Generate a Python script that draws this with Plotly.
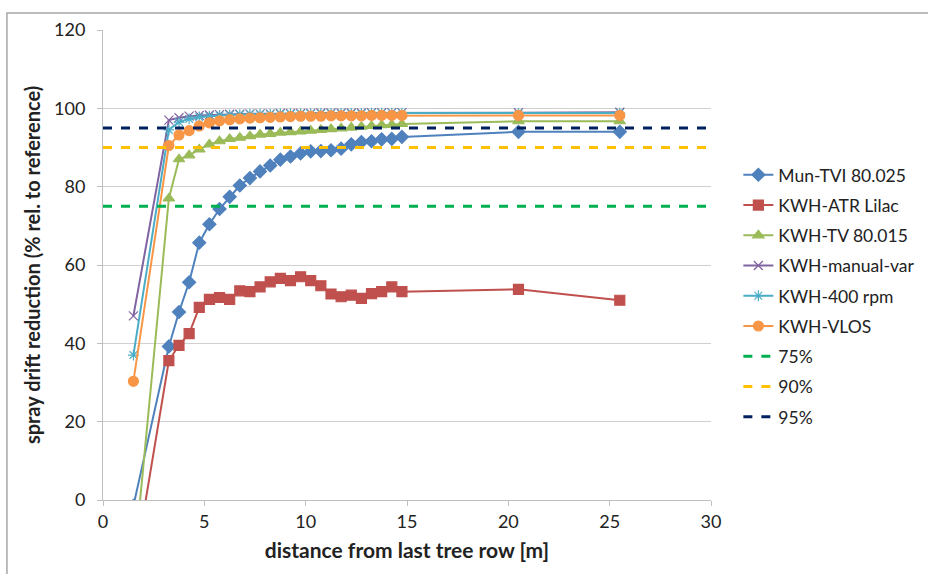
import plotly.graph_objects as go

# x positions (m)
x_dist = [1.5, 3.25, 3.75, 4.25, 4.75, 5.25, 5.75, 6.25, 6.75, 7.25, 7.75, 8.25, 8.75,
          9.25, 9.75, 10.25, 10.75, 11.25, 11.75, 12.25, 12.75, 13.25, 13.75, 14.25,
          14.75, 20.5, 25.5]

mun_tvi = [-1.5, 39.2, 48.0, 55.6, 65.7, 70.4, 74.3, 77.4, 80.3, 82.2, 83.9, 85.4, 86.9,
           87.7, 88.5, 89.0, 89.1, 89.3, 89.7, 90.8, 91.4, 91.6, 92.1, 92.2, 92.7, 94.0, 94.0]
kwh_atr = [-19.0, 35.6, 39.5, 42.5, 49.2, 51.2, 51.7, 51.2, 53.4, 53.2, 54.4, 55.7, 56.6,
           56.0, 57.0, 56.0, 54.7, 52.6, 51.9, 52.3, 51.5, 52.7, 53.2, 54.4, 53.2, 53.8, 51.0]
kwh_tv = [-18.0, 77.0, 87.0, 88.0, 89.5, 90.8, 91.6, 92.2, 92.5, 92.9, 93.3, 93.5, 93.8,
          93.9, 94.1, 94.3, 94.5, 94.7, 94.9, 95.1, 95.3, 95.5, 95.7, 95.8, 96.0, 96.7, 96.7]
kwh_manual = [47.0, 97.0, 97.6, 98.0, 98.2, 98.3, 98.4, 98.5, 98.5, 98.6, 98.6, 98.6, 98.7,
              98.7, 98.7, 98.7, 98.8, 98.8, 98.8, 98.8, 98.8, 98.9, 98.9, 98.9, 98.9, 98.9, 99.0]
kwh_400 = [37.0, 94.5, 96.5, 97.3, 97.8, 98.0, 98.2, 98.3, 98.4, 98.5, 98.5, 98.5, 98.6,
           98.6, 98.6, 98.6, 98.7, 98.7, 98.7, 98.7, 98.7, 98.8, 98.8, 98.8, 98.8, 98.7, 98.8]
kwh_vlos = [30.3, 90.5, 93.2, 94.3, 95.5, 96.3, 96.8, 97.1, 97.3, 97.5, 97.6, 97.7, 97.8,
            97.9, 98.0, 98.0, 98.0, 98.1, 98.1, 98.1, 98.1, 98.2, 98.2, 98.2, 98.2, 98.2, 98.2]

ref_x = [0, 30]
ref_75 = [75, 75]
ref_90 = [90, 90]
ref_95 = [95, 95]

FONT = "Lato"

fig = go.Figure()

series = [
    ("Mun-TVI 80.025", mun_tvi, "#4F81BD", "diamond", 10),
    ("KWH-ATR Lilac", kwh_atr, "#C0504D", "square", 10),
    ("KWH-TV 80.015", kwh_tv, "#9BBB59", "triangle-up", 10),
    ("KWH-manual-var", kwh_manual, "#8064A2", "x-thin-open", 9),
    ("KWH-400 rpm", kwh_400, "#4BACC6", "asterisk-open", 9),
    ("KWH-VLOS", kwh_vlos, "#F79646", "circle", 10),
]
for i, (name, ys, col, sym, sz) in enumerate(series):
    fig.add_trace(go.Scatter(
        x=x_dist, y=ys, name=name, mode="lines+markers",
        line=dict(color=col, width=2),
        marker=dict(symbol=sym, size=sz, color=col, line=dict(color=col, width=1.2)),
        legendgroup=f"g{i}",
    ))

refs = [("75%", ref_75, "#00B050"), ("90%", ref_90, "#FFC000"), ("95%", ref_95, "#002060")]
for j, (name, ys, col) in enumerate(refs):
    fig.add_trace(go.Scatter(
        x=ref_x, y=ys, name=name, mode="lines",
        line=dict(color=col, width=3, dash="dash"),
        legendgroup=f"r{j}",
    ))

fig.update_layout(
    width=928, height=574,
    margin=dict(l=103, r=217, t=30, b=74, autoexpand=False),
    paper_bgcolor="white", plot_bgcolor="white",
    font=dict(family=FONT, size=16, color="#222222"),
    showlegend=True,
    legend=dict(x=1.045, y=0.73, xanchor="left", yanchor="top",
                font=dict(family=FONT, size=17.5, color="#222222"),
                tracegroupgap=4.5, bgcolor="rgba(0,0,0,0)"),
    xaxis=dict(range=[0, 30], tick0=0, dtick=5, showgrid=False, zeroline=False,
               showline=True, linecolor="#BFBFBF", linewidth=1,
               ticks="outside", ticklen=5, tickcolor="#BFBFBF",
               tickfont=dict(family=FONT, size=18), automargin=False,
               title=dict(text="<b>distance from last tree row [m]</b>",
                          font=dict(family=FONT, size=21), standoff=12)),
    yaxis=dict(range=[0, 120], tick0=0, dtick=20, showgrid=True, gridcolor="#D0D0D0",
               gridwidth=1, zeroline=False, showline=True, linecolor="#BFBFBF", linewidth=1,
               ticks="outside", ticklen=5, tickcolor="#BFBFBF", ticklabelstandoff=8,
               tickfont=dict(family=FONT, size=18), automargin=False,
               title=dict(text="<b>spray drift reduction (% rel. to reference)</b>",
                          font=dict(family=FONT, size=20), standoff=8)),
    shapes=[dict(type="rect", xref="paper", yref="paper",
                 x0=-0.158, x1=1.4, y0=-0.2, y1=1.036,
                 line=dict(color="#A6A6A6", width=1.5), fillcolor="rgba(0,0,0,0)",
                 layer="below")],
)

fig.write_html("out.html", config={"displayModeBar": False},
               post_script="document.body.style.margin='0px';document.body.style.overflow='hidden';")
